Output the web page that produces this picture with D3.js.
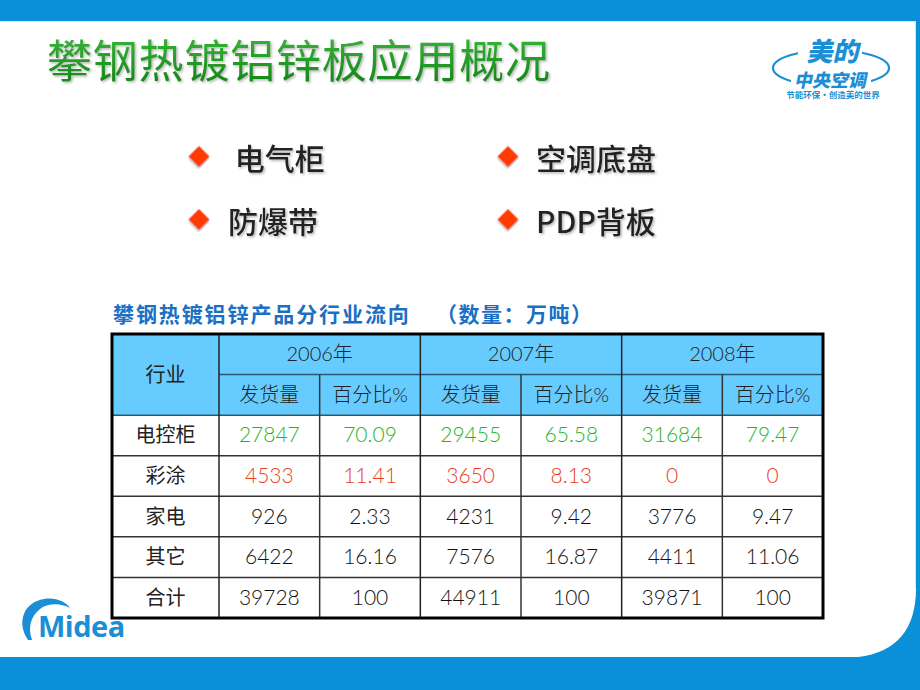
<!DOCTYPE html>
<html>
<head>
<meta charset="utf-8">
<script src="https://cdn.jsdelivr.net/npm/d3@7"></script>
<style>
  body { margin: 0; background: #fff; }
  svg { display: block; }
</style>
</head>
<body>
<script>
const title = "攀钢热镀铝锌板应用概况";
const bulletsLeft = [" 电气柜", "防爆带"];
const bulletsRight = ["空调底盘", "PDP背板"];
const captionMain = "攀钢热镀铝锌产品分行业流向";
const captionUnit = "（数量：万吨）";

const industries = ["电控柜", "彩涂", "家电", "其它", "合计"];
const years = ["2006年", "2007年", "2008年"];
const subHeads = ["发货量", "百分比%"];
// shipments and percentages per year, one entry per industry
const ship2006 = ["27847", "4533", "926", "6422", "39728"];
const pct2006 = ["70.09", "11.41", "2.33", "16.16", "100"];
const ship2007 = ["29455", "3650", "4231", "7576", "44911"];
const pct2007 = ["65.58", "8.13", "9.42", "16.87", "100"];
const ship2008 = ["31684", "0", "3776", "4411", "39871"];
const pct2008 = ["79.47", "0", "9.47", "11.06", "100"];
const rowColors = ["#1fb51f", "#e8401e", "#111", "#111", "#111"];

const W = 920, H = 690;
const svg = d3.select("body").append("svg").attr("width", W).attr("height", H);

// slide background
svg.append("rect").attr("width", W).attr("height", H).attr("fill", "#0a90d8");
svg.append("path")
  .attr("d", "M0,21 H916 V588 Q916,650 858,657 H0 Z")
  .attr("fill", "#fff");
svg.append("line").attr("x1", 0).attr("x2", 916).attr("y1", 21.5).attr("y2", 21.5)
  .attr("stroke", "#cfe8f6").attr("stroke-width", 1);
svg.append("line").attr("x1", 915.5).attr("x2", 915.5).attr("y1", 21).attr("y2", 588)
  .attr("stroke", "#cfe8f6").attr("stroke-width", 1);

const defs = svg.append("defs");
const grad = defs.append("linearGradient").attr("id", "tg").attr("x1", 0).attr("x2", 0).attr("y1", 0).attr("y2", 1);
grad.append("stop").attr("offset", "0%").attr("stop-color", "#3cbf3c");
grad.append("stop").attr("offset", "100%").attr("stop-color", "#0f7f12");
const sh = defs.append("filter").attr("id", "sh").attr("x", "-5%").attr("y", "-5%").attr("width", "110%").attr("height", "120%");
sh.append("feDropShadow").attr("dx", 1.5).attr("dy", 1.5).attr("stdDeviation", 0.8).attr("flood-color", "#999").attr("flood-opacity", 0.7);

const cjk = "'Noto Sans CJK SC', 'Noto Sans', sans-serif";
const num = "Lato, 'Noto Sans CJK SC', sans-serif";

// title
svg.append("text").attr("x", 47).attr("y", 78)
  .attr("font-family", cjk).attr("font-size", 45).attr("font-weight", 400)
  .attr("letter-spacing", 0.8)
  .attr("fill", "url(#tg)").attr("filter", "url(#sh)")
  .text(title);

// top-right logo
const logo = svg.append("g").attr("transform", "translate(831,68)");
logo.append("ellipse").attr("rx", 58).attr("ry", 18).attr("fill", "none")
  .attr("stroke", "#1b8fd6").attr("stroke-width", 2.2);
logo.append("rect").attr("x", -33).attr("y", -32).attr("width", 64).attr("height", 26).attr("fill", "#fff");
logo.append("rect").attr("x", -40).attr("y", -2).attr("width", 80).attr("height", 24).attr("fill", "#fff");
logo.append("text").attr("x", 0).attr("y", -7).attr("text-anchor", "middle")
  .attr("font-family", cjk).attr("font-size", 26).attr("font-weight", 900)
  .attr("fill", "#1b8fd6").attr("transform", "skewX(-12)").text("美的");
logo.append("text").attr("x", 3).attr("y", 19).attr("text-anchor", "middle")
  .attr("font-family", cjk).attr("font-size", 18).attr("font-weight", 900)
  .attr("fill", "#1b8fd6").attr("transform", "skewX(-12)").text("中央空调");
logo.append("text").attr("x", 2).attr("y", 30).attr("text-anchor", "middle")
  .attr("font-family", cjk).attr("font-size", 8.5).attr("font-weight", 700)
  .attr("fill", "#1b8fd6").text("节能环保·创造美的世界");

// bullets
const bulletRows = d3.scaleBand().domain([0, 1]).range([128, 254]);
function bullets(items, dx, tx) {
  items.forEach((t, i) => {
    const cy = bulletRows(i) + bulletRows.bandwidth() / 2;
    svg.append("path")
      .attr("d", d3.symbol(d3.symbolSquare, 220)())
      .attr("transform", `translate(${dx},${cy - 3}) rotate(45)`)
      .attr("fill", "#ff3a00").attr("filter", "url(#sh)");
    svg.append("text").attr("x", tx).attr("y", cy + 10)
      .attr("font-family", cjk).attr("font-size", 30).attr("font-weight", 500)
      .attr("fill", "#222").attr("filter", "url(#sh)")
      .attr("xml:space", "preserve").style("white-space", "pre")
      .text(t);
  });
}
bullets(bulletsLeft, 199, 228);
bullets(bulletsRight, 508, 536);

// table caption
svg.append("text").attr("x", 113).attr("y", 322)
  .attr("font-family", cjk).attr("font-size", 21).attr("font-weight", 700)
  .attr("letter-spacing", 1.9)
  .attr("fill", "#1a70c4").text(captionMain);
svg.append("text").attr("x", 436).attr("y", 322)
  .attr("font-family", cjk).attr("font-size", 21).attr("font-weight", 700)
  .attr("letter-spacing", 1.5)
  .attr("fill", "#1a70c4").text(captionUnit);

// table
const x0 = 112, x1 = 219, x2 = 823;
const rowKeys = ["h1", "h2", ...industries];
const y = d3.scaleBand().domain(rowKeys).range([334, 618]);
const colKeys = [];
years.forEach(yr => subHeads.forEach(s => colKeys.push(yr + s)));
const x = d3.scaleBand().domain(colKeys).range([x1, x2]);
const yearX = d3.scaleBand().domain(years).range([x1, x2]);

const tbl = svg.append("g");
// header fill
tbl.append("rect").attr("x", x0).attr("y", y("h1")).attr("width", x2 - x0)
  .attr("height", y.bandwidth() * 2).attr("fill", "#66ccff");

const cols = [ship2006, pct2006, ship2007, pct2007, ship2008, pct2008];

// header text
tbl.append("text").attr("x", (x0 + x1) / 2).attr("y", y("h2") + 7)
  .attr("text-anchor", "middle").attr("font-family", cjk).attr("font-size", 20)
  .attr("fill", "#222").text("行业");
tbl.selectAll(".yr").data(years).join("text")
  .attr("x", d => yearX(d) + yearX.bandwidth() / 2)
  .attr("y", y("h1") + y.bandwidth() / 2 + 7)
  .attr("text-anchor", "middle").attr("font-family", num).attr("font-size", 20)
  .attr("font-weight", 300).attr("fill", "#222").text(d => d);
tbl.selectAll(".sub").data(colKeys).join("text")
  .attr("x", d => x(d) + x.bandwidth() / 2)
  .attr("y", y("h2") + y.bandwidth() / 2 + 7)
  .attr("text-anchor", "middle").attr("font-family", num).attr("font-size", 20)
  .attr("font-weight", 300).attr("fill", "#222").text((d, i) => subHeads[i % 2]);

// body
tbl.selectAll(".ind").data(industries).join("text")
  .attr("x", (x0 + x1) / 2).attr("y", d => y(d) + y.bandwidth() / 2 + 7)
  .attr("text-anchor", "middle").attr("font-family", cjk).attr("font-size", 20)
  .attr("fill", "#222").text(d => d);
cols.forEach((col, ci) => {
  tbl.selectAll(".c" + ci).data(col).join("text")
    .attr("x", x(colKeys[ci]) + x.bandwidth() / 2)
    .attr("y", (d, ri) => y(industries[ri]) + y.bandwidth() / 2 + 7)
    .attr("text-anchor", "middle").attr("font-family", num).attr("font-size", 21)
    .attr("font-weight", 300)
    .attr("fill", (d, ri) => rowColors[ri]).text(d => d);
});

// grid lines
const line = (xa, ya, xb, yb, c, w) => tbl.append("line")
  .attr("x1", xa).attr("y1", ya).attr("x2", xb).attr("y2", yb)
  .attr("stroke", c).attr("stroke-width", w);
line(x1, y("h2"), x2, y("h2"), "#2a5a70", 1.5);
industries.slice(1).forEach(r => line(x0, y(r), x2, y(r), "#333", 1.5));
line(x0, y(industries[0]), x2, y(industries[0]), "#2a5a70", 1.5);
line(x1, y("h1"), x1, 618, "#222", 1.5);
years.slice(1).forEach(yr => line(yearX(yr), y("h1"), yearX(yr), 618, "#222", 1.5));
colKeys.filter((d, i) => i % 2 === 1).forEach(k => line(x(k), y("h2"), x(k), 618, "#333", 1.5));
tbl.append("rect").attr("x", x0).attr("y", 334).attr("width", x2 - x0).attr("height", 618 - 334)
  .attr("fill", "none").attr("stroke", "#000").attr("stroke-width", 3);

// Midea logo bottom-left
const ml = svg.append("g").attr("transform", "translate(18,598)");
ml.append("path")
  .attr("d", "M10,42 C-2,24 6,4 26,1 C38,-1 48,4 52,10 C42,5 30,5 22,11 C12,19 10,30 14,42 Z")
  .attr("fill", "#1a8fd8");
ml.append("text").attr("x", 20).attr("y", 39)
  .attr("font-family", "'Open Sans', 'DejaVu Sans', sans-serif").attr("font-size", 29)
  .attr("font-weight", 700).attr("fill", "#1a8fd8").attr("letter-spacing", -0.5).text("Midea");
</script>
</body>
</html>
